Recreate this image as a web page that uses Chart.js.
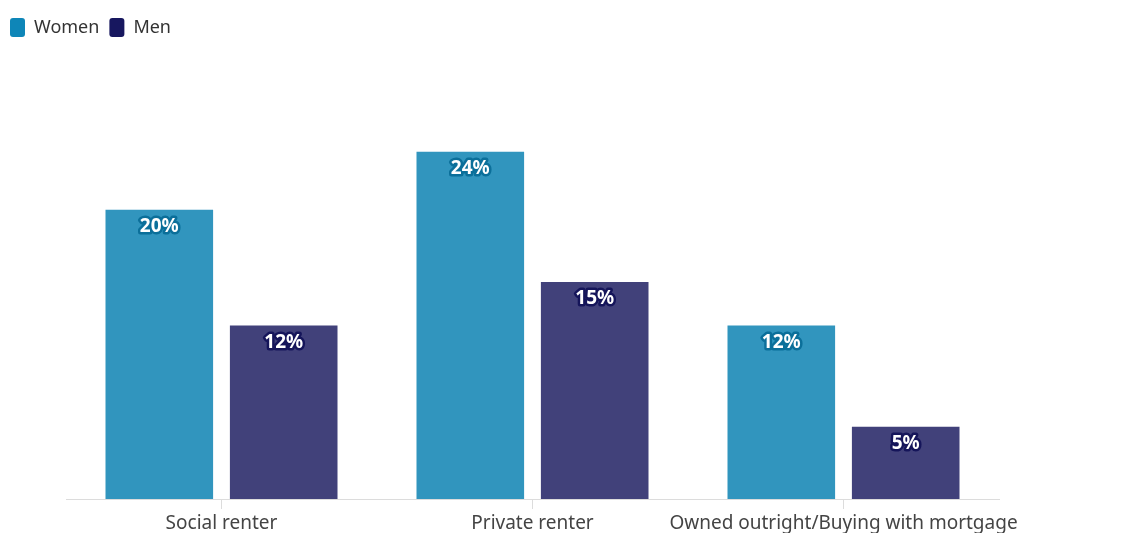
<!DOCTYPE html>
<html>
<head>
<meta charset="utf-8">
<script src="https://cdn.jsdelivr.net/npm/chart.js@4"></script>
<style>
    html, body { margin: 0; padding: 0; background: #fff; }
    #wrap { width: 1148px; height: 533px; }
</style>
</head>
<body>
<div id="wrap"><canvas id="tenureChart"></canvas></div>
<script>
const categories = ['Social renter', 'Private renter', 'Owned outright/Buying with mortgage'];
const women = [20, 24, 12];
const men = [12, 15, 5];

const womenColor = '#3195be';
const menColor = '#41417a';
const womenLegend = '#0e86b8';
const menLegend = '#17175f';

// White value labels with a coloured outline, just inside the top of each bar
const barValueLabels = {
    id: 'barValueLabels',
    afterDatasetsDraw(chart) {
        const ctx = chart.ctx;
        ctx.save();
        ctx.font = 'bold 19px "Noto Sans"';
        ctx.textAlign = 'center';
        ctx.textBaseline = 'middle';
        ctx.lineJoin = 'round';
        chart.data.datasets.forEach((ds, i) => {
            chart.getDatasetMeta(i).data.forEach((bar, j) => {
                const text = ds.data[j] + '%';
                const y = bar.y + 17;
                ctx.lineWidth = 5;
                ctx.strokeStyle = ds.outline;
                ctx.strokeText(text, bar.x, y);
                ctx.fillStyle = '#fff';
                ctx.fillText(text, bar.x, y);
            });
        });
        ctx.restore();
    }
};

// Extra room between the legend and the bars
const legendSpacing = {
    id: 'legendSpacing',
    beforeInit(chart) {
        const fit = chart.legend.fit;
        chart.legend.fit = function () {
            fit.bind(chart.legend)();
            this.height += 18;
        };
    }
};

new Chart(document.getElementById('tenureChart'), {
    type: 'bar',
    data: {
        labels: categories,
        datasets: [{
            label: 'Women',
            data: women,
            backgroundColor: womenColor,
            outline: '#0b6f9a',
            legendColor: womenLegend
        }, {
            label: 'Men',
            data: men,
            backgroundColor: menColor,
            outline: '#15155a',
            legendColor: menLegend
        }]
    },
    options: {
        responsive: true,
        maintainAspectRatio: false,
        animation: false,
        categoryPercentage: 0.8,
        barPercentage: 0.865,
        layout: {
            padding: { left: 0, right: 149, top: 8, bottom: -5 }
        },
        scales: {
            x: {
                grid: {
                    display: true,
                    drawOnChartArea: false,
                    offset: false,
                    tickLength: 10,
                    color: '#dcdcdc'
                },
                border: { color: '#dcdcdc' },
                ticks: {
                    color: '#444',
                    font: { family: '"Noto Sans"', size: 19, lineHeight: 1 },
                    padding: 5,
                    maxRotation: 0,
                    autoSkip: false
                }
            },
            y: {
                display: true,
                min: 0,
                max: 30,
                grid: { display: false },
                border: { display: false },
                ticks: { display: false },
                afterFit(scale) {
                    scale.width = 66;
                }
            }
        },
        plugins: {
            legend: {
                position: 'top',
                align: 'start',
                labels: {
                    color: '#333',
                    font: { family: '"Noto Sans"', size: 18 },
                    boxWidth: 15,
                    boxHeight: 19,
                    padding: 10,
                    useBorderRadius: true,
                    borderRadius: 3,
                    generateLabels(chart) {
                        return chart.data.datasets.map((ds, i) => ({
                            text: ds.label,
                            fillStyle: ds.legendColor,
                            strokeStyle: ds.legendColor,
                            lineWidth: 0,
                            fontColor: '#333',
                            borderRadius: 3,
                            datasetIndex: i
                        }));
                    }
                }
            },
            tooltip: { enabled: false }
        }
    },
    plugins: [barValueLabels, legendSpacing]
});
</script>
</body>
</html>
